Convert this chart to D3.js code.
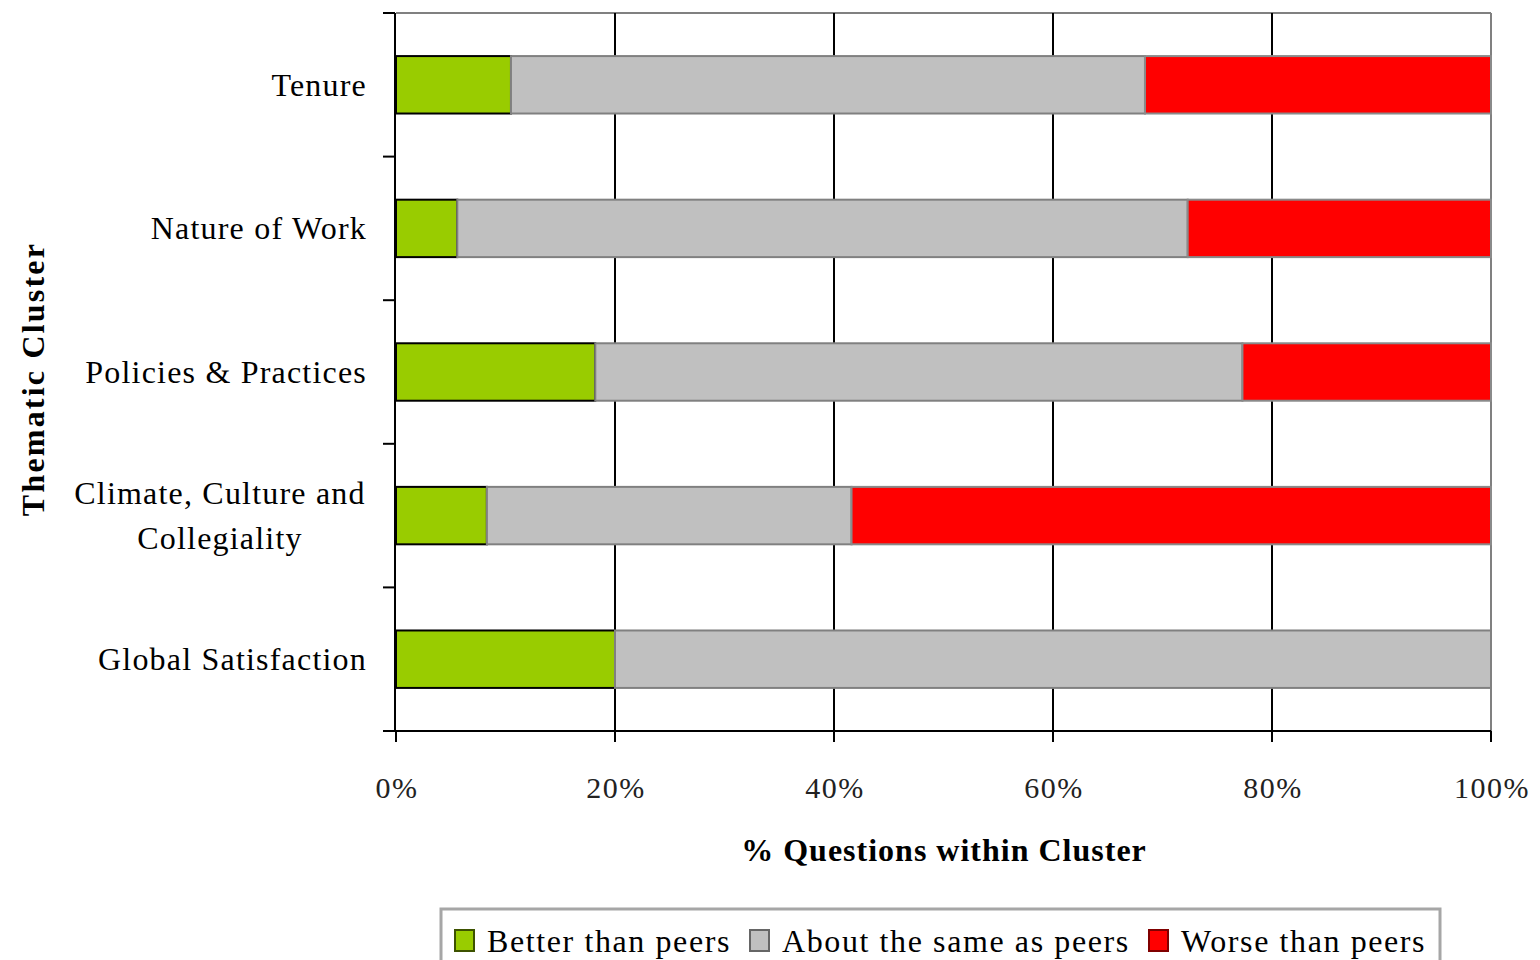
<!DOCTYPE html>
<html>
  <head>
    <script src="https://cdnjs.cloudflare.com/ajax/libs/d3/7.8.5/d3.min.js"></script>
    <style type="text/css">
      body {
        margin: 0;
        padding: 0;
        background: #fff;
      }
      svg text {
        font-family: "Liberation Serif", "DejaVu Serif", serif;
        fill: #000;
      }
      .cat-label {
        font-size: 32px;
        letter-spacing: 1.2px;
      }
      .legend-label {
        font-size: 32px;
        letter-spacing: 1.6px;
      }
      .tick-label {
        font-size: 30px;
        letter-spacing: 1.5px;
        fill: #222;
      }
      .axis-title {
        font-size: 32px;
        font-weight: bold;
        letter-spacing: 1px;
      }
      .axis-title.y {
        letter-spacing: 2.2px;
      }
    </style>
  </head>
  <body>
    <div id="chart"></div>
    <script type="text/javascript">
    const categories = ['Tenure', 'Nature of Work', 'Policies & Practices', 'Climate, Culture and Collegiality', 'Global Satisfaction'];
    const catLines = [['Tenure'], ['Nature of Work'], ['Policies & Practices'], ['Climate, Culture and', 'Collegiality'], ['Global Satisfaction']];
    const better = [10.5, 5.6, 18.2, 8.3, 20.0];
    const same = [57.9, 66.7, 59.1, 33.3, 80.0];
    const worse = [31.6, 27.7, 22.7, 58.4, 0.0];
    const seriesNames = ['Better than peers', 'About the same as peers', 'Worse than peers'];
    const seriesColors = ['#99cc00', '#c0c0c0', '#ff0000'];
    const seriesStrokes = ['#000000', '#808080', '#8a8a8a'];
    const legendStrokes = ['#3d5200', '#666666', '#800000'];
    const xTicks = [0, 20, 40, 60, 80, 100];

    const W = 1540, H = 960;
    const plot = {left: 396, right: 1491, top: 13, bottom: 731};

    const svg = d3.select('#chart')
      .append('svg')
      .attr('width', W)
      .attr('height', H);

    const x = d3.scaleLinear().domain([0, 100]).range([plot.left, plot.right]);
    const y = d3.scaleBand().domain(categories).range([plot.top, plot.bottom]).padding(0);
    const barH = y.bandwidth() * 0.4;

    // build stacked rows
    const rows = categories.map((c, i) => ({cat: c, values: [better[i], same[i], worse[i]]}));
    const stackData = rows.map(r => {
      let acc = 0;
      return r.values.map((v, k) => {
        const seg = {cat: r.cat, k: k, x0: acc, x1: acc + v};
        acc += v;
        return seg;
      });
    });

    // top + right border (gray)
    svg.append('line')
      .attr('x1', plot.left).attr('x2', plot.right)
      .attr('y1', plot.top).attr('y2', plot.top)
      .attr('stroke', '#808080').attr('stroke-width', 2);
    svg.append('line')
      .attr('x1', plot.right).attr('x2', plot.right)
      .attr('y1', plot.top).attr('y2', plot.bottom)
      .attr('stroke', '#808080').attr('stroke-width', 2);

    // vertical gridlines
    svg.selectAll('.grid')
      .data(xTicks.filter(d => d > 0 && d < 100))
      .enter()
      .append('line')
      .attr('class', 'grid')
      .attr('x1', d => x(d)).attr('x2', d => x(d))
      .attr('y1', plot.top).attr('y2', plot.bottom)
      .attr('stroke', '#000').attr('stroke-width', 2);

    // bars
    svg.selectAll('.row')
      .data(stackData)
      .enter()
      .append('g')
      .attr('class', 'row')
      .selectAll('rect')
      .data(d => d.filter(s => s.x1 - s.x0 > 0))
      .enter()
      .append('rect')
      .attr('x', d => x(d.x0))
      .attr('y', d => y(d.cat) + (y.bandwidth() - barH) / 2)
      .attr('width', d => x(d.x1) - x(d.x0))
      .attr('height', barH)
      .attr('fill', d => seriesColors[d.k])
      .attr('stroke', d => seriesStrokes[d.k])
      .attr('stroke-width', 2);

    // y axis (left) with ticks at band boundaries
    const yBounds = categories.map(c => y(c)).concat([plot.bottom]);
    svg.append('line')
      .attr('x1', plot.left - 1).attr('x2', plot.left - 1)
      .attr('y1', plot.top).attr('y2', plot.bottom)
      .attr('stroke', '#000').attr('stroke-width', 2);
    svg.selectAll('.ytick')
      .data(yBounds)
      .enter()
      .append('line')
      .attr('class', 'ytick')
      .attr('x1', plot.left - 13).attr('x2', plot.left - 1)
      .attr('y1', d => d).attr('y2', d => d)
      .attr('stroke', '#000').attr('stroke-width', 2);

    // x axis (bottom)
    svg.append('line')
      .attr('x1', plot.left - 13).attr('x2', plot.right)
      .attr('y1', plot.bottom).attr('y2', plot.bottom)
      .attr('stroke', '#000').attr('stroke-width', 2);
    svg.selectAll('.xtick')
      .data(xTicks)
      .enter()
      .append('line')
      .attr('class', 'xtick')
      .attr('x1', d => x(d)).attr('x2', d => x(d))
      .attr('y1', plot.bottom).attr('y2', plot.bottom + 11)
      .attr('stroke', '#000').attr('stroke-width', 2);

    svg.selectAll('.tick-label')
      .data(xTicks)
      .enter()
      .append('text')
      .attr('class', 'tick-label')
      .attr('x', d => x(d) + 1)
      .attr('y', 798)
      .attr('text-anchor', 'middle')
      .text(d => d + '%');

    // category labels
    const labels = svg.selectAll('.cat-label')
      .data(categories)
      .enter()
      .append('text')
      .attr('class', 'cat-label')
      .attr('y', d => y(d) + y.bandwidth() / 2);
    labels.each(function(d, i) {
      const lines = catLines[i];
      const t = d3.select(this);
      const lineH = 45;
      lines.forEach((ln, j) => {
        t.append('tspan')
          .attr('x', lines.length > 1 ? 220 : 367)
          .attr('text-anchor', lines.length > 1 ? 'middle' : 'end')
          .attr('dy', j === 0 ? (11 - (lines.length - 1) * lineH / 2) : lineH)
          .text(ln);
      });
    });

    // axis titles
    svg.append('text')
      .attr('class', 'axis-title')
      .attr('x', 944)
      .attr('y', 861)
      .attr('text-anchor', 'middle')
      .text('% Questions within Cluster');
    svg.append('text')
      .attr('class', 'axis-title y')
      .attr('transform', 'translate(44,379) rotate(-90)')
      .attr('text-anchor', 'middle')
      .text('Thematic Cluster');

    // legend
    const legend = svg.append('g').attr('class', 'legend');
    legend.append('rect')
      .attr('x', 441).attr('y', 909)
      .attr('width', 999).attr('height', 80)
      .attr('fill', '#fff')
      .attr('stroke', '#a6a6a6').attr('stroke-width', 3);
    const legendX = [455, 750, 1149];
    seriesNames.forEach((name, k) => {
      legend.append('rect')
        .attr('x', legendX[k]).attr('y', 930)
        .attr('width', 19).attr('height', 21)
        .attr('fill', seriesColors[k])
        .attr('stroke', legendStrokes[k]).attr('stroke-width', 2);
      legend.append('text')
        .attr('class', 'legend-label')
        .attr('x', legendX[k] + 32)
        .attr('y', 952)
        .text(name);
    });
    </script>
  </body>
</html>
